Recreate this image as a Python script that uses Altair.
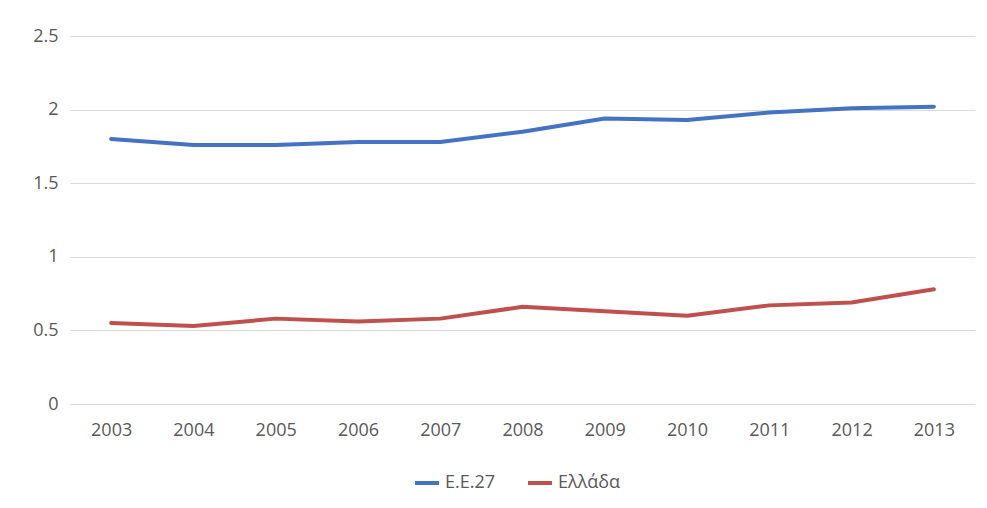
import altair as alt
import pandas as pd

years = ["2003", "2004", "2005", "2006", "2007", "2008", "2009", "2010", "2011", "2012", "2013"]
eu27 = [1.80, 1.76, 1.76, 1.78, 1.78, 1.85, 1.94, 1.93, 1.98, 2.01, 2.02]
greece = [0.55, 0.53, 0.58, 0.56, 0.58, 0.66, 0.63, 0.60, 0.67, 0.69, 0.78]
series_names = ["Ε.Ε.27", "Ελλάδα"]
series_colors = ["#4472C4", "#C0504D"]

rows = []
for name, vals in zip(series_names, [eu27, greece]):
    for y, v in zip(years, vals):
        rows.append({"year": y, "value": v, "series": name})
df = pd.DataFrame(rows)

FONT = "Open Sans"

chart = alt.Chart(df).mark_line(strokeWidth=4, strokeCap="round", strokeJoin="round").encode(
    x=alt.X("year:N", sort=years, title=None,
            scale=alt.Scale(type="point", padding=0.5),
            axis=alt.Axis(labelAngle=0, ticks=False, domain=False, grid=False,
                          labelPadding=17, labelFontSize=18, labelColor="#595959", labelFont=FONT)),
    y=alt.Y("value:Q", title=None,
            scale=alt.Scale(domain=[0, 2.5], nice=False),
            axis=alt.Axis(values=[0, 0.5, 1, 1.5, 2, 2.5], format="~g", ticks=False, domain=False,
                          labelPadding=12, labelFontSize=18, labelColor="#595959", labelFont=FONT,
                          gridColor="#d9d9d9", gridWidth=1)),
    color=alt.Color("series:N", sort=series_names,
                    scale=alt.Scale(domain=series_names, range=series_colors),
                    legend=alt.Legend(title=None, orient="none", direction="horizontal",
                                      legendX=343, legendY=433,
                                      symbolType="stroke", symbolStrokeWidth=4, symbolSize=576,
                                      labelFontSize=18, labelColor="#595959", labelFont=FONT,
                                      columnPadding=24, labelOffset=4)),
).properties(
    width=905, height=368,
    background="white",
    autosize=alt.AutoSizeParams(type="none"),
    padding={"left": 62, "top": 28, "right": 4, "bottom": 96},
).configure_view(stroke=None)

chart.save("out.html", embed_options={"renderer": "svg", "actions": False})
